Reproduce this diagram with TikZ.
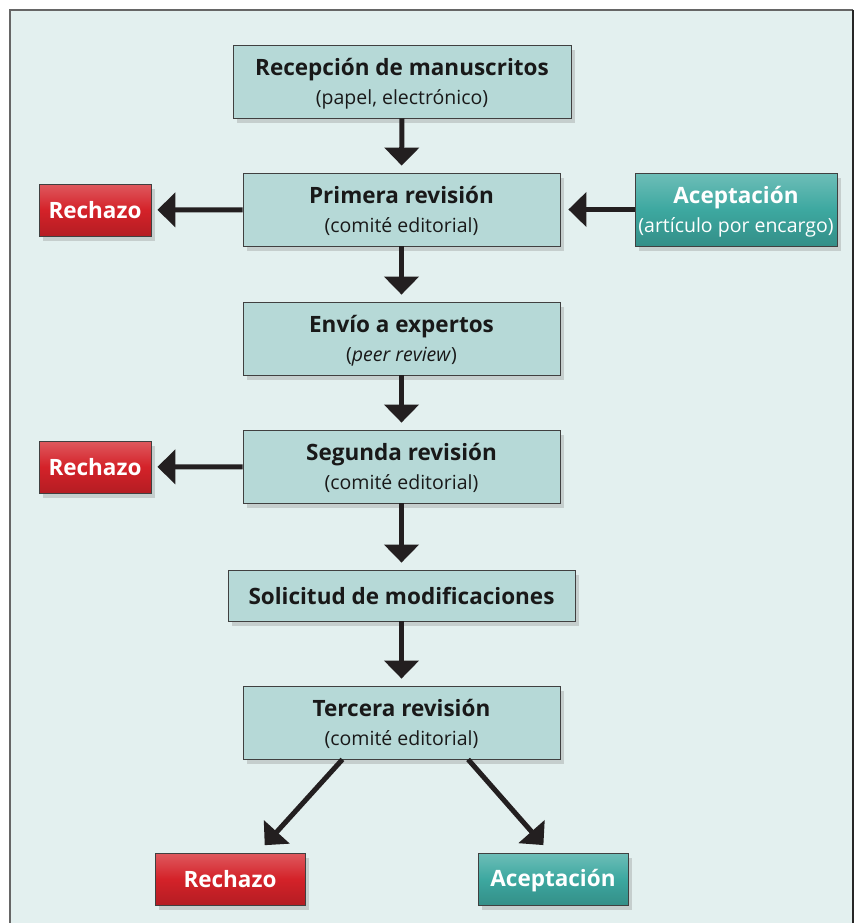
\documentclass[tikz,border=0pt]{standalone}
\usepackage{fontspec}
\setmainfont{Open Sans}
\usetikzlibrary{arrows.meta}
\usetikzlibrary{shadows}
\definecolor{fondo}{HTML}{E3F0EF}
\definecolor{caja}{HTML}{B6D9D7}
\definecolor{rojo}{HTML}{D42229}
\definecolor{verde}{HTML}{3DA8A0}
\definecolor{flecha}{HTML}{231F20}
\tikzset{x=1pt, y=-1pt,
    base/.style={
        rectangle,
        align=center,
        inner sep=0pt,
        draw=black!75,
        line width=0.8pt,
        font=\fontsize{19.5}{29}\selectfont,
        drop shadow={shadow xshift=4pt, shadow yshift=-5pt, opacity=0.3}},
    etapa/.style={
        base,
        fill=caja,
        text=black!90,
        minimum width=317pt,
        minimum height=73pt},
    doble/.style={text depth=-4pt},
    rechazo/.style={
        base,
        top color=rojo!75!white, bottom color=rojo!85!black, middle color=rojo,
        text=white,
        font=\fontsize{22.5}{30}\selectfont\bfseries,
        minimum height=52pt},
    aceptacion/.style={
        base,
        top color=verde!75!white, bottom color=verde!85!black, middle color=verde,
        text=white,
        minimum height=52pt},
    every edge/.style={
        draw=flecha,
        line width=5pt,
        -{Triangle[length=18pt, width=34pt]},
        shorten >=7pt}}
\newcommand{\tit}[1]{{\fontsize{22.5}{30}\selectfont\bfseries #1}}

\begin{document}
\begin{tikzpicture}
        \useasboundingbox (0,0) rectangle (856,923);
        \clip (0,0) rectangle (856,923);
        % marco
        \fill[fondo] (10,10) rectangle (853,940);
        \draw[black!60, line width=1.5pt] (10,940) -- (10,10) -- (853,10);
        \draw[black!85, line width=2pt] (853,10) -- (853,940);

        \node[etapa, doble, minimum width=338pt] (recep) at (402,81.5) {\tit{Recepción de manuscritos}\\(papel, electrónico)};
        \node[etapa, doble] (prim) at (401.5,209.5) {\tit{Primera revisión}\\(comité editorial)};
        \node[rechazo, minimum width=112pt] (rech1) at (95,210) {Rechazo};
        \node[aceptacion, doble, minimum width=202pt, minimum height=73pt] (acep1) at (736,209.5) {\tit{Aceptación}\\(artículo por encargo)};
        \node[etapa, doble] (envio) at (401.5,338.5) {\tit{Envío a expertos}\\(\textit{peer review})};
        \node[etapa, doble] (seg) at (401.5,466.5) {\tit{Segunda revisión}\\(comité editorial)};
        \node[rechazo, minimum width=112pt] (rech2) at (95,467) {Rechazo};
        \node[etapa, minimum width=347pt, minimum height=51pt] (solic) at (401.5,595.5) {\tit{Solicitud de modificaciones}};
        \node[etapa, doble] (terc) at (401.5,722.5) {\tit{Tercera revisión}\\(comité editorial)};
        \node[rechazo, minimum width=150pt] (rech3) at (230,879) {Rechazo};
        \node[aceptacion, minimum width=150pt, text depth=3pt] (acep3) at (553,879) {\tit{Aceptación}};

        \draw (recep) edge (prim);
        \draw (prim) edge (envio);
        \draw (envio) edge (seg);
        \draw (seg) edge (solic);
        \draw (solic) edge (terc);

        \draw (prim) edge[shorten >=6pt] (rech1);
        \draw (seg) edge[shorten >=6pt] (rech2);
        \draw (acep1) edge[shorten >=8pt] (prim);

        \draw (terc.212) edge[shorten >=10pt] ([xshift=28pt]rech3.north);
        \draw (terc.331) edge[shorten >=10pt] ([xshift=-3pt]acep3.north);

    \end{tikzpicture}
\end{document}
